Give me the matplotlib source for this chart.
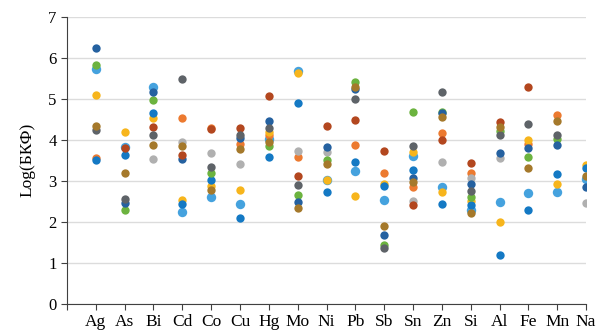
import matplotlib
matplotlib.use("Agg")
import matplotlib.pyplot as plt
import numpy as np

elements = ["Ag", "As", "Bi", "Cd", "Co", "Cu", "Hg", "Mo", "Ni", "Pb",
            "Sb", "Sn", "Zn", "Si", "Al", "Fe", "Mn", "Na"]
nan = np.nan

# log(BCF) per series, one value per element (nan = not visible)
light_blue = [5.74, 3.83, 5.30, 2.23, 2.61, 2.44, 4.03, 5.68, 3.03, 3.24,
              2.53, 3.60, 2.84, 2.30, 2.48, 2.71, 2.72, 3.05]
orange     = [3.56, nan, nan, 4.53, 4.28, 3.91, 4.13, 3.59, nan, 3.88,
              3.19, 2.85, 4.17, 3.19, nan, 3.89, 4.60, nan]
gray       = [nan, nan, 3.54, 3.95, 3.68, 3.42, nan, 3.74, 3.70, nan,
              nan, 2.50, 3.47, 3.07, 3.56, nan, nan, 2.46]
yellow     = [5.10, 4.19, 4.54, 2.53, 2.87, 2.77, 4.19, 5.62, 3.01, 2.64,
              2.93, 3.71, 2.72, 2.52, 2.00, 3.99, 2.92, 3.38]
blue       = [3.50, 3.62, 4.66, 2.44, 3.03, 2.09, 3.58, 4.89, 2.74, 3.47,
              2.87, 3.26, 2.44, 2.42, 1.19, 2.30, 3.17, 3.31]
green      = [5.82, 2.30, 4.97, nan, 3.18, nan, 3.85, 2.65, 3.52, 5.42,
              1.44, 4.69, 4.69, 2.60, 4.21, 3.59, 4.03, nan]
dark_blue  = [6.25, 2.46, 5.17, 3.54, nan, 4.05, 4.45, 2.49, 3.82, 5.23,
              1.69, 3.07, 4.65, 2.92, 3.68, 3.79, 3.87, 2.85]
red_brown  = [nan, 3.79, 4.31, 3.64, 4.26, 4.29, 5.07, 3.11, 4.34, 4.48,
              3.72, 2.40, 3.99, 3.44, 4.43, 5.29, nan, nan]
dark_gray  = [4.25, 2.56, 4.11, 5.49, 3.33, 4.13, 4.28, 2.89, nan, 5.00,
              1.36, 3.85, 5.16, 2.75, 4.13, 4.39, 4.13, nan]
gold_brown = [4.35, 3.19, 3.87, 3.85, 2.77, 3.77, 3.94, 2.34, 3.40, 5.29,
              1.89, 2.97, 4.56, 2.22, 4.32, 3.31, 4.45, 3.11]

series = [
    (light_blue, "#45a2de", 46),
    (orange, "#ec7a30", 36),
    (gray, "#b0b0b0", 36),
    (yellow, "#f7b51c", 36),
    (blue, "#1479c4", 36),
    (green, "#6cb33f", 36),
    (dark_blue, "#2561a0", 36),
    (red_brown, "#b3471f", 36),
    (dark_gray, "#5e6368", 36),
    (gold_brown, "#a5792b", 36),
]

plt.rcParams["font.family"] = ["Liberation Serif", "DejaVu Serif"]

fig = plt.figure(figsize=(5.98, 3.31), dpi=100)
ax = fig.add_axes([0.112, 0.082, 0.868, 0.867])

x = np.arange(1, len(elements) + 1)
for vals, col, s in series:
    ax.scatter(x, vals, s=s, color=col, linewidths=0, zorder=3)

ax.set_xlim(0, 18)
ax.set_ylim(0, 7)
ax.set_xticks(np.arange(0, 19))
ax.set_xticklabels([""] + elements, fontsize=12.5)
ax.set_yticks(np.arange(0, 8))
ax.tick_params(axis="y", labelsize=12, length=4, color="#404040")
ax.tick_params(axis="x", length=4, color="#404040", pad=3)
ax.grid(axis="y", color="#dcdcdc", linewidth=1, zorder=0)
ax.set_axisbelow(True)
for side in ["top", "right"]:
    ax.spines[side].set_visible(False)
for side in ["left", "bottom"]:
    ax.spines[side].set_color("#404040")
ax.set_ylabel("Log(БКФ)", fontsize=12.5, labelpad=9)

fig.savefig("out.png", dpi=100)
